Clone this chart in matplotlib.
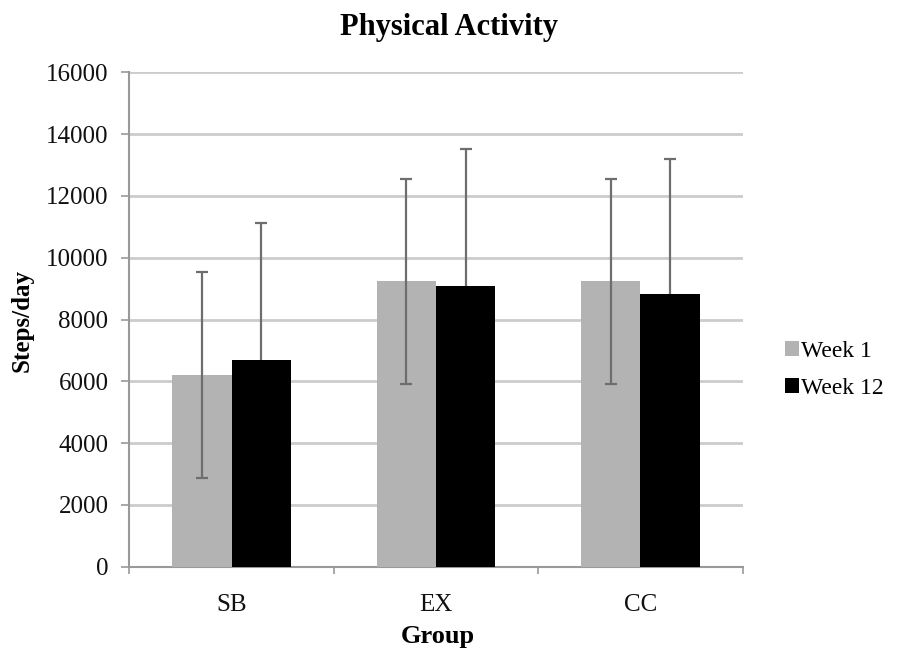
import matplotlib
matplotlib.use("Agg")
import matplotlib.pyplot as plt
import numpy as np
from matplotlib.patches import Patch

categories = ["SB", "EX", "CC"]
series_names = ["Week 1", "Week 12"]
week1 = [6200, 9230, 9230]
week1_err = [3330, 3310, 3310]
week12 = [6680, 9100, 8810]
week12_err = [4430, 4430, 4380]
yticks = [0, 2000, 4000, 6000, 8000, 10000, 12000, 14000, 16000]

plt.rcParams['font.family'] = ['Liberation Serif', 'DejaVu Serif']

W, H = 897, 656
fig = plt.figure(figsize=(W / 100, H / 100), dpi=100)
ax = fig.add_axes([129.3 / W, 1 - 566.7 / H, (742.7 - 129.3) / W, (566.7 - 72.3) / H])

x = np.arange(len(categories))
bw = 0.289
c1, c2 = '#b3b3b3', '#000000'
ecol = '#6e6e6e'

ax.bar(x - bw / 2, week1, bw, color=c1, zorder=3)
ax.bar(x + bw / 2, week12, bw, color=c2, zorder=3)
ax.errorbar(x - bw / 2, week1, yerr=week1_err, fmt='none', ecolor=ecol,
            elinewidth=1.6, capsize=4.5, capthick=1.6, zorder=4)
ax.errorbar(x + bw / 2, week12, yerr=week12_err, fmt='none', ecolor=ecol,
            elinewidth=1.6, capsize=4.5, capthick=1.6, zorder=2.5)

ax.set_xlim(-0.5, 2.5)
ax.set_ylim(0, 16000)
ax.set_yticks(yticks)
ax.set_yticklabels([str(v) for v in yticks])
ax.yaxis.grid(True, color='#cccccc', linewidth=2.0, zorder=0)
ax.set_axisbelow(True)

ax.set_xticks(x)
ax.set_xticklabels(categories)
ax.set_xticks([-0.5, 0.5, 1.5, 2.5], minor=True)
ax.tick_params(axis='x', which='major', length=0, pad=20, labelsize=18, labelcolor='#111111')
ax.tick_params(axis='x', which='minor', length=5, width=1.2, color='#999999')
ax.tick_params(axis='y', length=6, width=1.2, color='#999999', pad=9, labelsize=18,
               labelcolor='#111111')

for s in ['top', 'right']:
    ax.spines[s].set_visible(False)
for s in ['left', 'bottom']:
    ax.spines[s].set_color('#999999')
    ax.spines[s].set_linewidth(1.5)

fig.text(0.5, 1 - 28 / H, "Physical Activity", ha='center', va='center',
         fontsize=22, fontweight='bold')
fig.text(438 / W, 1 - 637 / H, "Group", ha='center', va='center',
         fontsize=19, fontweight='bold')
fig.text(22 / W, 1 - 320 / H, "Steps/day", ha='center', va='center',
         fontsize=18, fontweight='bold', rotation=90)

handles = [Patch(facecolor=c1), Patch(facecolor=c2)]
fig.legend(handles, series_names, loc='center left',
           bbox_to_anchor=(773 / W, 1 - 370 / H), frameon=False,
           fontsize=17, handlelength=0.6, handleheight=0.6, handletextpad=0.1,
           labelspacing=0.7, borderpad=0)

fig.savefig("out.png", dpi=100)
